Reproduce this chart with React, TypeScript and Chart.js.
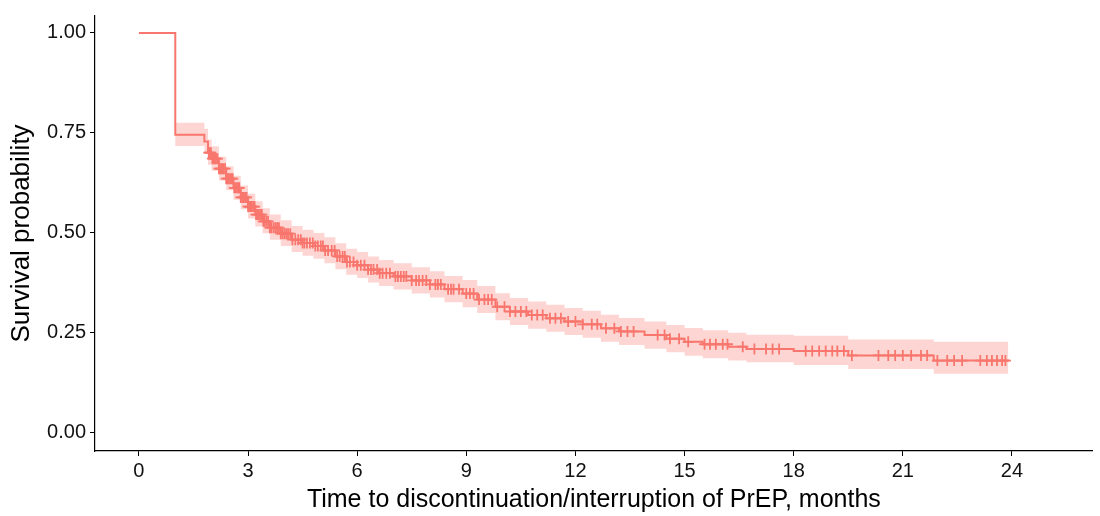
import React, { useEffect, useRef } from "react";
import { Chart, registerables } from "chart.js";

Chart.register(...registerables);

// Kaplan–Meier step points (months)
const times = [0, 1.0, 1.8, 1.9, 2.0, 2.2, 2.4, 2.6, 2.8, 3.0, 3.2, 3.4, 3.6, 3.9, 4.2, 4.5, 4.8, 5.1, 5.4, 5.7, 6.0, 6.3, 6.6, 7.0, 7.5, 8.0, 8.4, 8.9, 9.3, 9.8, 10.2, 10.7, 11.2, 11.7, 12.2, 12.7, 13.2, 13.9, 14.5, 15.0, 15.5, 16.2, 16.7, 18.0, 19.5, 21.85, 23.9];
const survival = [1.0, 0.745, 0.728, 0.700, 0.685, 0.660, 0.635, 0.612, 0.588, 0.565, 0.545, 0.528, 0.512, 0.497, 0.482, 0.474, 0.466, 0.455, 0.440, 0.426, 0.418, 0.407, 0.398, 0.390, 0.380, 0.370, 0.358, 0.347, 0.332, 0.314, 0.302, 0.293, 0.285, 0.277, 0.270, 0.260, 0.252, 0.243, 0.234, 0.226, 0.220, 0.214, 0.208, 0.203, 0.192, 0.179, 0.177];
const upperCI = [1.0, 0.775, 0.760, 0.733, 0.716, 0.690, 0.666, 0.642, 0.618, 0.597, 0.578, 0.561, 0.545, 0.531, 0.516, 0.507, 0.499, 0.488, 0.473, 0.459, 0.451, 0.440, 0.431, 0.423, 0.413, 0.403, 0.391, 0.381, 0.366, 0.348, 0.336, 0.327, 0.319, 0.311, 0.304, 0.294, 0.286, 0.277, 0.268, 0.261, 0.255, 0.249, 0.244, 0.241, 0.232, 0.226, 0.226];
const lowerCI = [1.0, 0.717, 0.698, 0.670, 0.655, 0.630, 0.606, 0.582, 0.558, 0.535, 0.515, 0.498, 0.482, 0.466, 0.451, 0.442, 0.434, 0.423, 0.408, 0.394, 0.386, 0.375, 0.366, 0.357, 0.347, 0.337, 0.325, 0.313, 0.298, 0.280, 0.268, 0.259, 0.251, 0.243, 0.236, 0.226, 0.218, 0.209, 0.200, 0.191, 0.185, 0.179, 0.175, 0.168, 0.158, 0.146, 0.146];

// Censoring times (months)
const censorTimes = [1.92, 1.95, 1.98, 2.02, 2.05, 2.09, 2.12, 2.16, 2.2, 2.23, 2.26, 2.3, 2.33, 2.37, 2.4, 2.44, 2.47, 2.51, 2.55, 2.58, 2.62, 2.66, 2.7, 2.73, 2.76, 2.8, 2.84, 2.88, 2.92, 2.96, 3.0, 3.03, 3.06, 3.1, 3.14, 3.18, 3.22, 3.26, 3.3, 3.34, 3.38, 3.42, 3.45, 3.5, 3.55, 3.6, 3.64, 3.7, 3.75, 3.8, 3.85, 3.9, 3.95, 4.0, 4.05, 4.1, 4.16, 4.22, 4.3, 4.38, 4.45, 4.5, 4.55, 4.62, 4.7, 4.78, 4.85, 4.92, 5.0, 5.06, 5.12, 5.2, 5.3, 5.38, 5.45, 5.52, 5.6, 5.66, 5.72, 5.8, 5.9, 6.0, 6.1, 6.2, 6.3, 6.38, 6.45, 6.55, 6.62, 6.7, 6.8, 6.9, 7.05, 7.12, 7.2, 7.28, 7.35, 7.5, 7.62, 7.7, 7.8, 7.9, 8.0, 8.15, 8.22, 8.3, 8.5, 8.58, 8.65, 8.8, 9.0, 9.1, 9.2, 9.35, 9.5, 9.6, 9.7, 9.85, 10.05, 10.2, 10.35, 10.5, 10.65, 10.8, 10.95, 11.1, 11.3, 11.45, 11.6, 11.8, 12.0, 12.2, 12.45, 12.6, 12.84, 13.07, 13.25, 13.43, 13.6, 14.26, 14.45, 14.6, 14.85, 15.1, 15.55, 15.7, 15.86, 16.05, 16.18, 16.6, 16.92, 17.24, 17.42, 17.6, 18.33, 18.51, 18.7, 18.88, 19.06, 19.2, 19.38, 19.6, 20.33, 20.6, 20.79, 21.0, 21.23, 21.5, 21.67, 21.95, 22.22, 22.41, 22.63, 23.13, 23.31, 23.45, 23.59, 23.73, 23.82];

const xTicks = [0, 3, 6, 9, 12, 15, 18, 21, 24];
const yTicks = [0, 0.25, 0.5, 0.75, 1.0];
const yTickLabels = ["0.00", "0.25", "0.50", "0.75", "1.00"];

const LINE = "#F8766D";
const BAND = "rgba(248,118,109,0.3)";

function stepAt(t: number): number {
  let v = survival[0];
  for (let i = 0; i < times.length; i++) {
    if (times[i] <= t) v = survival[i];
  }
  return v;
}

export default function App() {
  const ref = useRef<HTMLCanvasElement | null>(null);
  useEffect(() => {
    if (!ref.current) return;
    const font = "'Liberation Sans', Arial, sans-serif";
    const chart = new Chart(ref.current, {
      type: "line",
      data: {
        datasets: [
          {
            data: times.map((t, i) => ({ x: t, y: upperCI[i] })),
            stepped: true,
            borderWidth: 0,
            borderColor: "rgba(0,0,0,0)",
            pointRadius: 0,
            backgroundColor: BAND,
            fill: "+1",
          },
          {
            data: times.map((t, i) => ({ x: t, y: lowerCI[i] })),
            stepped: true,
            borderWidth: 0,
            borderColor: "rgba(0,0,0,0)",
            pointRadius: 0,
            fill: false,
          },
          {
            data: times.map((t, i) => ({ x: t, y: survival[i] })),
            stepped: true,
            borderColor: LINE,
            borderWidth: 2,
            pointRadius: 0,
            fill: false,
          },
          {
            data: censorTimes.map((t) => ({ x: t, y: stepAt(t) })),
            showLine: false,
            pointStyle: "cross",
            pointRadius: 5.5,
            borderColor: LINE,
            backgroundColor: LINE,
            pointBorderWidth: 1.8,
            fill: false,
          },
        ],
      },
      options: {
        animation: false,
        responsive: false,
        events: [],
        layout: { padding: { left: 0, right: 5, top: 0, bottom: 0 } },
        plugins: { legend: { display: false }, tooltip: { enabled: false } },
        scales: {
          x: {
            type: "linear",
            min: -1.207,
            max: 26.22,
            afterBuildTicks: (s: any) => {
              s.ticks = xTicks.map((v) => ({ value: v }));
            },
            afterFit: (s: any) => {
              s.height = 65;
            },
            grid: { display: true, drawOnChartArea: false, drawTicks: true, tickLength: 5, color: "#000", lineWidth: 1 },
            border: { display: true, color: "#000", width: 1.2 },
            ticks: { color: "#111", font: { family: font, size: 20 }, padding: 3, maxRotation: 0, callback: (v: any) => String(v) },
            title: { display: true, text: "Time to discontinuation/interruption of PrEP, months", color: "#000", font: { family: font, size: 25 }, padding: { top: 0, bottom: 1 } },
          },
          y: {
            type: "linear",
            min: -0.0475,
            max: 1.0425,
            afterBuildTicks: (s: any) => {
              s.ticks = yTicks.map((v) => ({ value: v }));
            },
            afterFit: (s: any) => {
              s.width = 95;
            },
            grid: { display: true, drawOnChartArea: false, drawTicks: true, tickLength: 5, color: "#000", lineWidth: 1 },
            border: { display: true, color: "#000", width: 1.2 },
            ticks: {
              color: "#111",
              font: { family: font, size: 20 },
              padding: 4,
              callback: (v: any) => {
                const i = yTicks.indexOf(Number(v));
                return i >= 0 ? yTickLabels[i] : "";
              },
            },
            title: { display: true, text: "Survival probability", color: "#000", font: { family: font, size: 26 }, padding: { top: 6.5, bottom: 0 } },
          },
        },
      },
    });
    return () => chart.destroy();
  }, []);
  return (
    <div style={{ position: "fixed", left: 0, top: 0, width: 1100, height: 516, background: "#fff" }}>
      <canvas ref={ref} width={1100} height={516} style={{ width: 1100, height: 516 }} />
    </div>
  );
}
